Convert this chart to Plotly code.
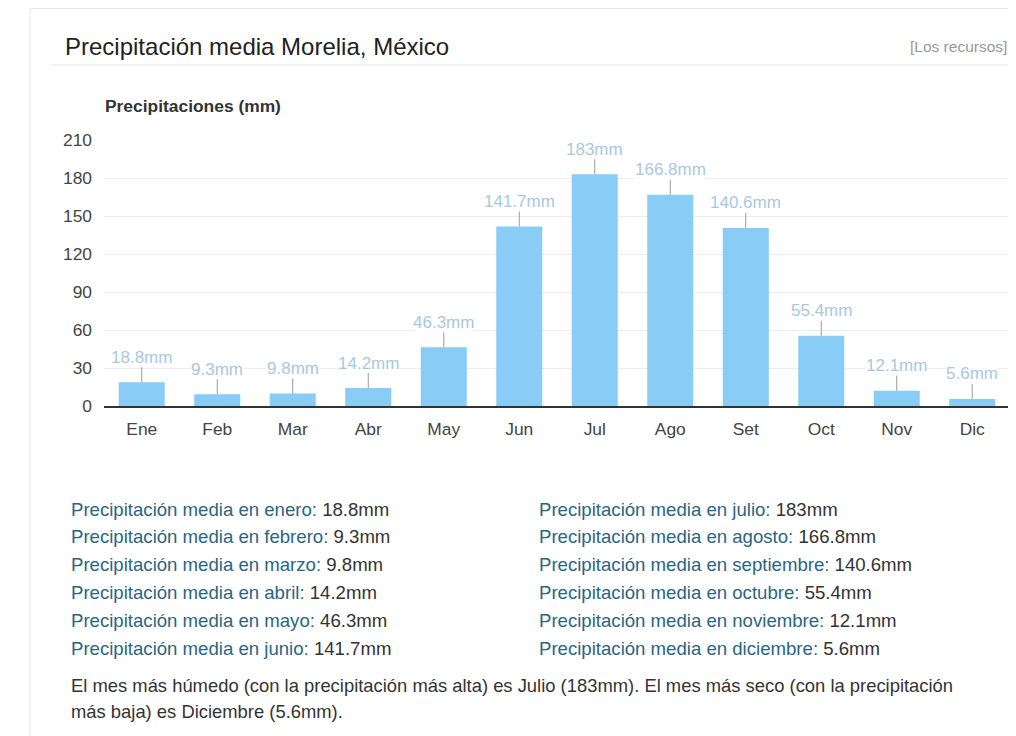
import plotly.graph_objects as go

# ---- data ----
months = ["Ene", "Feb", "Mar", "Abr", "May", "Jun", "Jul", "Ago", "Set", "Oct", "Nov", "Dic"]
month_names = ["enero", "febrero", "marzo", "abril", "mayo", "junio",
               "julio", "agosto", "septiembre", "octubre", "noviembre", "diciembre"]
precip_mm = [18.8, 9.3, 9.8, 14.2, 46.3, 141.7, 183, 166.8, 140.6, 55.4, 12.1, 5.6]
y_ticks = [0, 30, 60, 90, 120, 150, 180, 210]

title_text = "Precipitación media Morelia, México"
source_text = "[Los recursos]"
axis_title = "Precipitaciones (mm)"
summary_1 = "El mes más húmedo (con la precipitación más alta) es Julio (183mm). El mes más seco (con la precipitación"
summary_2 = "más baja) es Diciembre (5.6mm)."

# ---- layout geometry (reference window pixels; page body adds an 8px margin) ----
OFF = 8
FW, FH = 1016 - OFF, 736 - OFF
L, R_EDGE, TOP, BOT = 104, 1010, 140, 406
PW, PH = R_EDGE - L, BOT - TOP
FONT = "Liberation Sans, Arial, sans-serif"


def px(xp):
    return (xp - L) / PW


def py(yp):
    return (BOT - yp) / PH


fig = go.Figure()
fig.add_trace(go.Bar(
    x=months, y=precip_mm,
    marker=dict(color="#89cdf6", line=dict(width=0)),
    hoverinfo="x+y",
))

annotations = []
# data labels with leader lines
for m, v in zip(months, precip_mm):
    annotations.append(dict(
        x=m, y=v, xref="x", yref="y",
        text=f"{v:g}mm", showarrow=True, arrowhead=0, arrowwidth=1,
        arrowcolor="#9a9a9a", ax=0, ay=-25,
        font=dict(family=FONT, size=17, color="#a9c8e0"),
        bgcolor="rgba(255,255,255,0.85)", borderpad=0,
    ))

# title, source, axis title
annotations.append(dict(x=px(63), y=py(46), xref="paper", yref="paper", text=title_text,
                        showarrow=False, xanchor="left", yanchor="middle",
                        font=dict(family=FONT, size=24, color="#222222")))
annotations.append(dict(x=px(1009), y=py(46), xref="paper", yref="paper", text=source_text,
                        showarrow=False, xanchor="right", yanchor="middle",
                        font=dict(family=FONT, size=15.5, color="#999999")))
annotations.append(dict(x=px(103), y=py(106), xref="paper", yref="paper", text=f"<b>{axis_title}</b>",
                        showarrow=False, xanchor="left", yanchor="middle",
                        font=dict(family=FONT, size=17.4, color="#333333")))

# list of monthly values
for i, (name, v) in enumerate(zip(month_names, precip_mm)):
    col = i // 6
    row = i % 6
    xpix = 69 if col == 0 else 537
    ypix = 509 + row * 27.8
    annotations.append(dict(
        x=px(xpix), y=py(ypix), xref="paper", yref="paper",
        text=f"<span style='color:#2a6584'>Precipitación media en {name}:</span> "
             f"<span style='color:#333333'>{v:g}mm</span>",
        showarrow=False, xanchor="left", yanchor="middle",
        font=dict(family=FONT, size=18.6, color="#2a6584")))

annotations.append(dict(x=px(69), y=py(686), xref="paper", yref="paper", text=summary_1,
                        showarrow=False, xanchor="left", yanchor="middle",
                        font=dict(family=FONT, size=18.4, color="#333333")))
annotations.append(dict(x=px(69), y=py(711), xref="paper", yref="paper", text=summary_2,
                        showarrow=False, xanchor="left", yanchor="middle",
                        font=dict(family=FONT, size=18.4, color="#333333")))

shapes = [
    # card border top and left
    dict(type="line", xref="paper", yref="paper", x0=px(30), x1=px(1016), y0=py(8.5), y1=py(8.5),
         line=dict(color="#e4e4e4", width=1)),
    dict(type="line", xref="paper", yref="paper", x0=px(30), x1=px(30), y0=py(8), y1=py(736),
         line=dict(color="#e8e8e8", width=1)),
    # title underline
    dict(type="line", xref="paper", yref="paper", x0=px(50), x1=px(1008), y0=py(65), y1=py(65),
         line=dict(color="#e6e6e6", width=1)),
]

fig.update_layout(
    width=FW, height=FH,
    margin=dict(l=L - OFF, r=FW - (R_EDGE - OFF), t=TOP - OFF, b=FH - (BOT - OFF), pad=0),
    paper_bgcolor="white", plot_bgcolor="white",
    bargap=0.39,
    showlegend=False,
    font=dict(family=FONT, color="#444444"),
    xaxis=dict(
        showgrid=False, showline=True, linecolor="#333333", linewidth=1.5,
        ticks="", tickfont=dict(family=FONT, size=17.4, color="#444444"),
        ticklabelstandoff=6, fixedrange=True,
    ),
    yaxis=dict(
        range=[0, 210], tickvals=y_ticks, showgrid=True, gridcolor="#ececec", gridwidth=1,
        zeroline=False, showline=False, ticks="",
        tickfont=dict(family=FONT, size=17.4, color="#444444"),
        ticklabelstandoff=11, fixedrange=True,
    ),
    annotations=annotations,
    shapes=shapes,
)

fig.write_html("out.html")
